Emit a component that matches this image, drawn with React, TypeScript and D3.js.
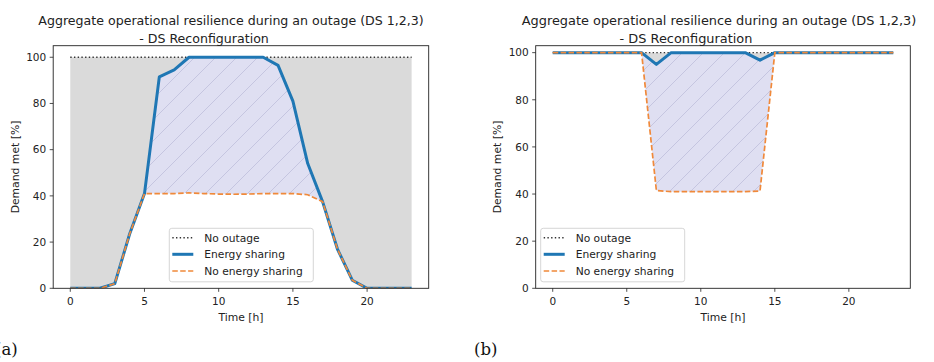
import React from "react";
import * as d3 from "d3";

const hours = [0, 1, 2, 3, 4, 5, 6, 7, 8, 9, 10, 11, 12, 13, 14, 15, 16, 17, 18, 19, 20, 21, 22, 23];
const noOutage = [100, 100, 100, 100, 100, 100, 100, 100, 100, 100, 100, 100, 100, 100, 100, 100, 100, 100, 100, 100, 100, 100, 100, 100];
const leftSharing = [0, 0, 0, 2, 23.5, 41, 91.5, 94.5, 100, 100, 100, 100, 100, 100, 96.5, 81, 54, 37.5, 17, 3.5, 0, 0, 0, 0];
const leftNoSharing = [0, 0, 0, 2, 23.5, 41, 41, 41, 41.3, 41, 40.8, 40.7, 40.8, 41, 41, 41, 40.5, 37.5, 17, 3.5, 0, 0, 0, 0];
const rightSharing = [100, 100, 100, 100, 100, 100, 100, 95, 100, 100, 100, 100, 100, 100, 96.8, 100, 100, 100, 100, 100, 100, 100, 100, 100];
const rightNoSharing = [100, 100, 100, 100, 100, 100, 100, 41.5, 41, 41, 41, 41, 41, 41, 41.3, 100, 100, 100, 100, 100, 100, 100, 100, 100];
const xTicks = [0, 5, 10, 15, 20];
const yTicks = [0, 20, 40, 60, 80, 100];
const titleLine1 = "Aggregate operational resilience during an outage (DS 1,2,3)";
const titleLine2 = "- DS Reconfiguration";
const legendLabels = ["No outage", "Energy sharing", "No energy sharing"];

const BLUE = "#1f77b4";
const ORANGE = "#f0893a";
const GRAY = "#dadada";
const LAV = "#dfdff2";
const HATCH = "#c2c2de";
const FONT = "DejaVu Sans, sans-serif";

type PanelProps = {
  id: string;
  left: number;
  right: number;
  top: number;
  bottom: number;
  ymax: number;
  sharing: number[];
  noSharing: number[];
  legendX: number;
  title1X: number;
  title2X: number;
  titleSize: number;
  tag: string;
  tagX: number;
};

function Panel(p: PanelProps) {
  const x = d3.scaleLinear().domain([-1.15, 24.15]).range([p.left, p.right]);
  const y = d3.scaleLinear().domain([0, p.ymax]).range([p.bottom, p.top]);
  const idx = hours.map((_, i) => i);
  const line = (vals: number[]) =>
    d3.line<number>().x((i) => x(hours[i])).y((i) => y(vals[i]))(idx) || "";
  const grayArea =
    d3.area<number>().x((i) => x(hours[i])).y0((i) => y(p.sharing[i])).y1((i) => y(noOutage[i]))(idx) || "";
  const lavArea =
    d3.area<number>().x((i) => x(hours[i])).y0((i) => y(p.noSharing[i])).y1((i) => y(p.sharing[i]))(idx) || "";
  const cx = (p.left + p.right) / 2;
  const cy = (p.top + p.bottom) / 2;
  const lb = { x: p.legendX, y: p.bottom - 60, w: 144, h: 53.5 };
  const rows = [9.4, 26, 42.7];
  const hs = 21;
  return (
    <g>
      <defs>
        <pattern id={"hatch" + p.id} patternUnits="userSpaceOnUse" width={hs} height={hs}>
          <rect width={hs} height={hs} fill={LAV} />
          <path d={`M-2,2 L2,-2 M0,${hs} L${hs},0 M${hs - 2},${hs + 2} L${hs + 2},${hs - 2}`} stroke={HATCH} strokeWidth={0.9} />
        </pattern>
        <clipPath id={"clip" + p.id}>
          <rect x={p.left} y={p.top} width={p.right - p.left} height={p.bottom - p.top} />
        </clipPath>
      </defs>
      <text x={p.title1X} y={25} textAnchor="middle" fontFamily={FONT} fontSize={p.titleSize} fill="#222">
        {titleLine1}
      </text>
      <text x={p.title2X} y={43} textAnchor="middle" fontFamily={FONT} fontSize={p.titleSize} fill="#222">
        {titleLine2}
      </text>
      <g clipPath={`url(#clip${p.id})`}>
        <path d={grayArea} fill={GRAY} />
        <path d={lavArea} fill={`url(#hatch${p.id})`} />
        <path d={line(noOutage)} fill="none" stroke="#333" strokeWidth={1.4} strokeDasharray="1.4,2.3" />
        <path d={line(p.sharing)} fill="none" stroke={BLUE} strokeWidth={3} strokeLinejoin="round" />
        <path d={line(p.noSharing)} fill="none" stroke={ORANGE} strokeWidth={1.7} strokeDasharray="5.5,2.4" />
      </g>
      <rect x={p.left} y={p.top} width={p.right - p.left} height={p.bottom - p.top} fill="none" stroke="#222" strokeWidth={0.9} />
      {xTicks.map((t) => (
        <g key={"x" + t}>
          <line x1={x(t)} x2={x(t)} y1={p.bottom} y2={p.bottom + 3.5} stroke="#222" strokeWidth={0.8} />
          <text x={x(t)} y={p.bottom + 16.2} textAnchor="middle" fontFamily={FONT} fontSize={10.5} fill="#222">
            {t}
          </text>
        </g>
      ))}
      {yTicks.map((t) => (
        <g key={"y" + t}>
          <line x1={p.left - 3.5} x2={p.left} y1={y(t)} y2={y(t)} stroke="#222" strokeWidth={0.8} />
          <text x={p.left - 7} y={y(t) + 3.8} textAnchor="end" fontFamily={FONT} fontSize={10.5} fill="#222">
            {t}
          </text>
        </g>
      ))}
      <text x={cx} y={p.bottom + 32.5} textAnchor="middle" fontFamily={FONT} fontSize={10.8} fill="#222">
        Time [h]
      </text>
      <text
        transform={`translate(${p.left - 34.5},${cy}) rotate(-90)`}
        textAnchor="middle"
        fontFamily={FONT}
        fontSize={10.8}
        fill="#222"
      >
        Demand met [%]
      </text>
      <g>
        <rect x={lb.x} y={lb.y} width={lb.w} height={lb.h} rx={2.5} fill="white" fillOpacity={0.8} stroke="#cccccc" strokeWidth={0.8} />
        <line x1={lb.x + 3} x2={lb.x + 24} y1={lb.y + rows[0]} y2={lb.y + rows[0]} stroke="#333" strokeWidth={1.4} strokeDasharray="1.4,2.3" />
        <line x1={lb.x + 3} x2={lb.x + 24} y1={lb.y + rows[1]} y2={lb.y + rows[1]} stroke={BLUE} strokeWidth={3} />
        <line x1={lb.x + 3} x2={lb.x + 24} y1={lb.y + rows[2]} y2={lb.y + rows[2]} stroke={ORANGE} strokeWidth={1.7} strokeDasharray="5.5,2.4" />
        {legendLabels.map((l, i) => (
          <text key={l} x={lb.x + 35} y={lb.y + rows[i] + 3.8} fontFamily={FONT} fontSize={10.7} fill="#222">
            {l}
          </text>
        ))}
      </g>
      <text x={p.tagX} y={355} fontFamily="DejaVu Serif, serif" fontSize={16.5} fill="#111">
        {p.tag}
      </text>
    </g>
  );
}

export default function App() {
  return (
    <svg width={934} height={362} style={{ position: "absolute", left: 0, top: 0, background: "white" }}>
      <rect width={934} height={362} fill="white" />
      <Panel
        id="a"
        left={53.2}
        right={428.7}
        top={45.7}
        bottom={288.3}
        ymax={105}
        sharing={leftSharing}
        noSharing={leftNoSharing}
        legendX={169.3}
        title1X={231}
        title2X={204}
        titleSize={12.6}
        tag="(a)"
        tagX={-5}
      />
      <Panel
        id="b"
        left={535.7}
        right={910.3}
        top={45.7}
        bottom={288.3}
        ymax={102.95}
        sharing={rightSharing}
        noSharing={rightNoSharing}
        legendX={540.7}
        title1X={719}
        title2X={686}
        titleSize={12.9}
        tag="(b)"
        tagX={474}
      />
    </svg>
  );
}
